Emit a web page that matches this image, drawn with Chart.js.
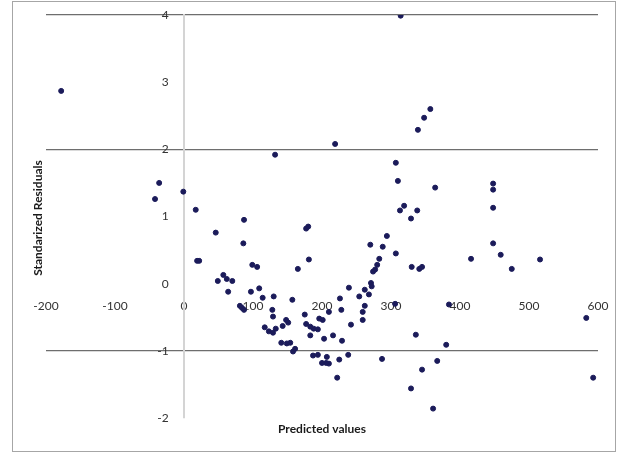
<!DOCTYPE html>
<html>
<head>
<meta charset="utf-8">
<script src="https://cdn.jsdelivr.net/npm/chart.js@4.4.0/dist/chart.umd.min.js"></script>
<style>
  html, body { margin: 0; padding: 0; background: #fff; }
  #wrap { width: 624px; height: 454px; position: relative; }
</style>
</head>
<body>
<div id="wrap"><canvas id="resid"></canvas></div>
<script>
// predicted values (x) and standardized residuals (y)
var predicted = [
  -178, 132, -36, -42, -1, 17, 87, 314, 219, 357,
  348, 339, 307, 310, 364, 319, 313, 338, 329, 448,
  448, 448, 448, 416, 459, 516, 475, 330, 341, 345,
  583, 593, 336, 380, 367, 345, 329, 361, 287, 384,
  306, 294, 270, 288, 307, 283, 280, 277, 274, 271,
  272, 262, 268, 239, 254, 226, 262, 259, 259, 228,
  242, 210, 229, 216, 203, 238, 225, 222, 207, 210,
  206, 200, 194, 187, 181, 175, 196, 201, 177, 183,
  188, 194, 183, 177, 180, 165, 157, 154, 161, 158,
  84, 87, 81, 128, 129, 117, 123, 129, 133, 143,
  148, 151, 141, 149, 46, 86, 19, 22, 99, 106,
  57, 49, 62, 70, 64, 97, 109, 114, 130
]
var residuals = [
  2.87, 1.92, 1.50, 1.26, 1.37, 1.10, 0.95, 3.99, 2.08, 2.60,
  2.47, 2.29, 1.80, 1.53, 1.43, 1.16, 1.09, 1.09, 0.97, 1.49,
  1.40, 1.13, 0.60, 0.37, 0.43, 0.36, 0.22, 0.25, 0.22, 0.25,
  -0.51, -1.40, -0.76, -0.91, -1.15, -1.28, -1.56, -1.86, -1.12, -0.31,
  -0.30, 0.71, 0.58, 0.55, 0.45, 0.37, 0.28, 0.21, 0.18, 0.01,
  -0.04, -0.09, -0.16, -0.06, -0.19, -0.22, -0.33, -0.42, -0.54, -0.39,
  -0.61, -0.42, -0.85, -0.77, -0.82, -1.06, -1.13, -1.40, -1.09, -1.19,
  -1.18, -1.18, -1.06, -1.07, 0.36, -0.46, -0.52, -0.54, -0.60, -0.64,
  -0.67, -0.68, -0.77, 0.82, 0.85, 0.22, -0.24, -0.88, -0.97, -1.01,
  -0.36, -0.39, -0.33, -0.39, -0.49, -0.65, -0.71, -0.73, -0.67, -0.63,
  -0.54, -0.58, -0.88, -0.89, 0.76, 0.60, 0.34, 0.34, 0.28, 0.25,
  0.13, 0.04, 0.07, 0.04, -0.12, -0.12, -0.07, -0.21, -0.19
]
var xTitle = "Predicted values"
var yTitle = "Standarized Residuals"
var visibleGrid = [4, 2, -1]

var points = []
for (var i = 0; i < predicted.length; i++) {
    points.push({x: predicted[i], y: residuals[i]})
}

// frame and axis titles, Excel style
var decor = {
    id: "decor",
    afterDraw: function(chart){
        var ctx = chart.ctx
        ctx.save()
        ctx.strokeStyle = "#a6a6a6"
        ctx.lineWidth = 1
        ctx.strokeRect(12.5, 1.5, 603, 450)
        ctx.fillStyle = "#1a1a1a"
        ctx.font = "bold 12px Lato"
        ctx.textAlign = "center"
        ctx.textBaseline = "middle"
        ctx.fillText(xTitle, 322, 429)
        ctx.translate(38, 218)
        ctx.rotate(-Math.PI / 2)
        ctx.fillText(yTitle, 0, 0)
        ctx.restore()
    }
}

var ctx = document.getElementById("resid")

var chart = new Chart(ctx, {
    type: "scatter",
    data: {
        datasets: [{
            data: points,
            backgroundColor: "#1b1b5a",
            borderColor: "#1b1b5a",
            pointRadius: 2.5,
            pointHoverRadius: 2.5
        }]
    },
    options: {
        responsive: true,
        maintainAspectRatio: false,
        animation: false,
        layout: {
            padding: {left: 46, right: 26, top: 15, bottom: 36}
        },
        plugins: {
            legend: {display: false},
            tooltip: {enabled: false}
        },
        scales: {
            x: {
                type: "linear",
                position: {y: 0},
                min: -200,
                max: 600,
                ticks: {
                    stepSize: 100,
                    color: "#333",
                    font: {family: "Lato", size: 12},
                    padding: 0,
                    maxRotation: 0
                },
                grid: {
                    display: true,
                    drawOnChartArea: false,
                    drawTicks: true,
                    tickLength: 15,
                    tickColor: "rgba(0,0,0,0)"
                },
                border: {display: false}
            },
            y: {
                type: "linear",
                position: {x: 0},
                min: -2,
                max: 4,
                ticks: {
                    stepSize: 1,
                    color: "#333",
                    font: {family: "Lato", size: 12},
                    padding: 0,
                    // label sits a little left of the axis line
                    callback: function(v){ return v + "     " }
                },
                grid: {
                    drawTicks: false,
                    lineWidth: 1.2,
                    color: function(c){
                        if (c.tick && visibleGrid.indexOf(c.tick.value) >= 0) {
                            return "#6e6e6e"
                        }
                        return "rgba(0,0,0,0)"
                    }
                },
                border: {display: true, color: "#d4d4d4", width: 2}
            }
        }
    },
    plugins: [decor]
})
</script>
</body>
</html>
